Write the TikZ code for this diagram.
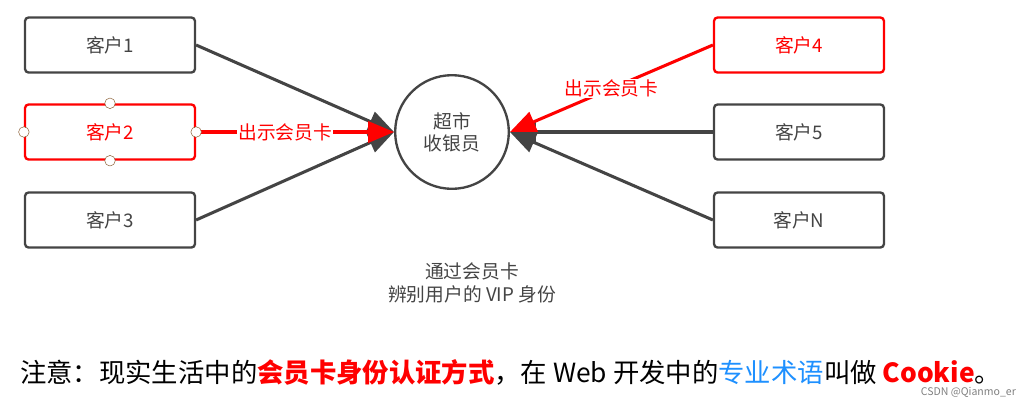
\documentclass[tikz,border=0pt]{standalone}
\usepackage{fontspec}
\setmainfont{Noto Sans CJK SC}
\usetikzlibrary{arrows.meta}
\definecolor{dgray}{HTML}{444444}
\definecolor{wblue}{HTML}{1E90FF}
\tikzset{
  cbox/.style={draw=dgray, line width=2pt, rounded corners=3pt, minimum width=145pt, minimum height=47pt, font=\fontsize{16}{18}\selectfont, text=dgray},
  rbox/.style={cbox, draw=red, text=red},
  link/.style={draw=dgray, line width=2.6pt, -{Triangle[length=22pt,width=18pt]}},
  rlink/.style={link, draw=red, -{Triangle[length=22pt,width=18pt,fill=red]}},
  dot/.style={circle, draw=brown!70!black, fill=white, inner sep=0pt, minimum size=9pt, thin}
}
\begin{document}
\begin{tikzpicture}[x=0.3mm, y=-0.3mm]
  \useasboundingbox (0,0) rectangle (1026,406);
  \node[cbox] (c1) at (110,45) {客户1};
  \node[rbox] (c2) at (110,132) {客户2};
  \node[cbox] (c3) at (110,220) {客户3};
  \node[rbox] (c4) at (799,45) {客户4};
  \node[cbox] (c5) at (799,132) {客户5};
  \node[cbox] (cn) at (799,220) {客户N};
  \node[circle, draw=dgray, line width=2pt, minimum size=97pt, align=center, text=dgray, font=\fontsize{16}{19}\selectfont] (cash) at (452,132) {超市\\收银员};
  % connectors
  \draw[link] (c1.east) -- (cash.west);
  \draw[link] (c3.east) -- (cash.west);
  \draw[link] (c5.west) -- (cash.east);
  \draw[link] (cn.west) -- (cash.east);
  \draw[rlink] (c2.east) -- (cash.west) node[pos=0.45, fill=white, inner sep=1pt, text=red, font=\fontsize{16}{18}\selectfont] (l2) {出示会员卡};
  \draw[rlink] (c4.west) -- (cash.east) node[pos=0.5, fill=white, inner sep=1pt, text=red, font=\fontsize{16}{18}\selectfont] (l4) {出示会员卡};
  \foreach \a in {north,south,east,west}
    \node[dot] at (c2.\a) {};
  \node[align=center, text=dgray, font=\fontsize{16}{19}\selectfont] (note) at (472,283) {通过会员卡\\辨别用户的 VIP 身份};
  \node[anchor=west, font=\fontsize{22.5}{24}\selectfont] (tip) at (16,372) {注意：现实生活中的\textcolor{red}{\bfseries 会员卡身份认证方式}，在 Web 开发中的\textcolor{wblue}{专业术语}叫做 \textcolor{red}{\bfseries Cookie}。};
  \node[anchor=east, text=gray, font=\fontsize{9}{10}\selectfont] (mark) at (1020,392) {CSDN @Qianmo\_er};
\end{tikzpicture}
\end{document}
